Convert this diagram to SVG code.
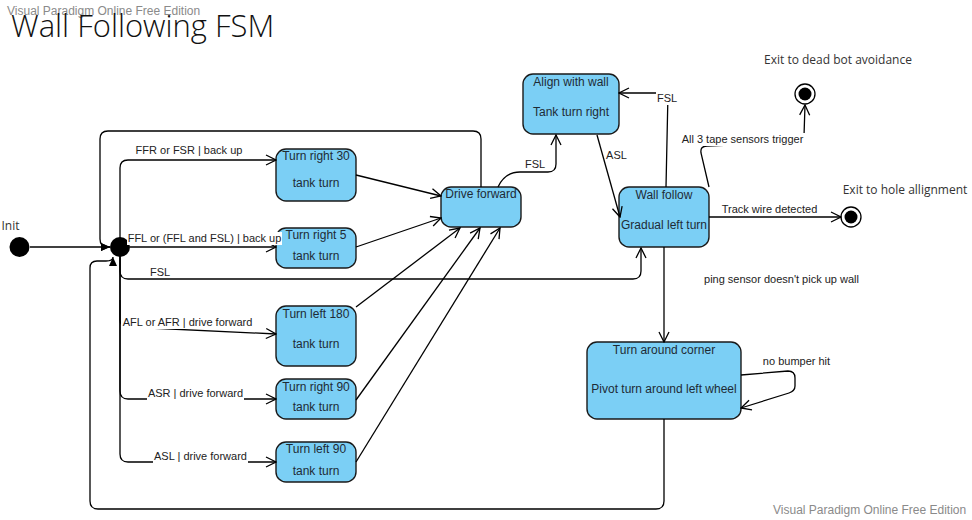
<svg xmlns="http://www.w3.org/2000/svg" width="972" height="520" viewBox="0 0 972 520">
<defs>
<marker id="open" viewBox="0 0 12 12" refX="11" refY="6" markerWidth="12" markerHeight="12" markerUnits="userSpaceOnUse" orient="auto">
<path d="M1,1 L11,6 L1,11" fill="none" stroke="#000" stroke-width="1.3"/>
</marker>
<marker id="filled" viewBox="0 0 9 8" refX="9" refY="4" markerWidth="9" markerHeight="8" markerUnits="userSpaceOnUse" orient="auto">
<path d="M0,0 L9,4 L0,8 z" fill="#000"/>
</marker>
<style>
.node rect{fill:#7bcff5;stroke:#1a1a1a;stroke-width:1.4}
.nt{font-family:"Liberation Sans",Arial,sans-serif;font-size:12px;fill:#1e2b35;text-anchor:middle}
.lb{font-family:"Liberation Sans",Arial,sans-serif;font-size:11px;fill:#222;text-anchor:middle}
.ex{font-family:"Open Sans","Liberation Sans",sans-serif;font-size:12px;fill:#333;text-anchor:middle}
.wm{font-family:"Liberation Sans",Arial,sans-serif;font-size:12px;fill:#8a8a8a}
.c{fill:none;stroke:#000;stroke-width:1.3}
.bg{fill:#fff}
</style>
</defs>
<rect width="972" height="520" fill="#fff"/>
<text class="wm" x="7" y="15">Visual Paradigm Online Free Edition</text>
<text x="11" y="37" font-family="'Open Sans','Liberation Sans',sans-serif" font-size="31" font-weight="300" fill="#111">Wall Following FSM</text>
<text class="wm" x="773" y="514">Visual Paradigm Online Free Edition</text>

<g id="init">
<circle cx="19.5" cy="247" r="10" fill="#000"/>
<text class="ex" x="10.5" y="230">Init</text>
</g>
<g id="junction">
<circle cx="120" cy="247" r="10" fill="#000"/>
</g>

<g id="turn-right-30" class="node">
<rect x="276" y="149" width="80" height="52" rx="10"/>
<text class="nt" x="316" y="160">Turn right 30</text>
<text class="nt" x="316" y="187">tank turn</text>
</g>
<g id="turn-right-5" class="node">
<rect x="276" y="228" width="80" height="40" rx="10"/>
<text class="nt" x="316" y="239">Turn right 5</text>
<text class="nt" x="316" y="260">tank turn</text>
</g>
<g id="drive-forward" class="node">
<rect x="441" y="187" width="80" height="40" rx="10"/>
<text class="nt" x="481" y="198">Drive forward</text>
</g>
<g id="align-with-wall" class="node">
<rect x="523" y="74" width="96" height="60" rx="10"/>
<text class="nt" x="571" y="86">Align with wall</text>
<text class="nt" x="571" y="116">Tank turn right</text>
</g>
<g id="wall-follow" class="node">
<rect x="619" y="187" width="90" height="60" rx="10"/>
<text class="nt" x="664" y="199">Wall follow</text>
<text class="nt" x="664" y="229">Gradual left turn</text>
</g>
<g id="turn-left-180" class="node">
<rect x="276" y="306" width="80" height="60" rx="10"/>
<text class="nt" x="316" y="318">Turn left 180</text>
<text class="nt" x="316" y="348">tank turn</text>
</g>
<g id="turn-right-90" class="node">
<rect x="276" y="379" width="80" height="40" rx="10"/>
<text class="nt" x="316" y="391">Turn right 90</text>
<text class="nt" x="316" y="411">tank turn</text>
</g>
<g id="turn-left-90" class="node">
<rect x="276" y="442" width="80" height="40" rx="10"/>
<text class="nt" x="316" y="453">Turn left 90</text>
<text class="nt" x="316" y="475">tank turn</text>
</g>
<g id="turn-around-corner" class="node">
<rect x="587" y="342" width="154" height="77" rx="10"/>
<text class="nt" x="664" y="354">Turn around corner</text>
<text class="nt" x="664" y="393">Pivot turn around left wheel</text>
</g>

<g id="exit-dead-bot">
<circle cx="805" cy="94" r="10" fill="#fff" stroke="#000" stroke-width="1.3"/>
<circle cx="805" cy="94" r="6.5" fill="#000"/>
<text class="ex" x="838" y="64">Exit to dead bot avoidance</text>
</g>
<g id="exit-hole">
<circle cx="851" cy="217" r="10" fill="#fff" stroke="#000" stroke-width="1.3"/>
<circle cx="851" cy="217" r="6.5" fill="#000"/>
<text class="ex" x="905" y="194">Exit to hole allignment</text>
</g>

<g id="connectors">
<path class="c" d="M30,247 L110,247" marker-end="url(#filled)"/>
<path class="c" d="M481,187 L481,139 Q481,131 473,131 L108,131 Q100,131 100,139 L100,239 Q100,247 108,247 L110,247" marker-end="url(#filled)"/>
<path class="c" d="M664,419 L664,501 Q664,509 656,509 L98,509 Q90,509 90,501 L90,268 Q90,261 97,261 L106,261 Q113,261 113,257" marker-end="url(#filled)"/>
<path class="c" d="M120,247 L120,168 Q120,160 128,160 L276,160" marker-end="url(#open)"/>
<path class="c" d="M130,247 L276,247" marker-end="url(#open)"/>
<path class="c" d="M120,247 L120,271 Q120,279 128,279 L633,279 Q641,279 641,271 L641,248" marker-end="url(#open)"/>
<path class="c" d="M120,300 L120,320 Q120,327 128,327 L276,334" marker-end="url(#open)"/>
<path class="c" d="M120,247 L120,391 Q120,399 128,399 L276,399" marker-end="url(#open)"/>
<path class="c" d="M120,247 L120,454 Q120,462 128,462 L276,462" marker-end="url(#open)"/>
<path class="c" d="M356,175 L441,196" marker-end="url(#open)"/>
<path class="c" d="M356,247 L441,218" marker-end="url(#open)"/>
<path class="c" d="M356,307 L460,228" marker-end="url(#open)"/>
<path class="c" d="M356,400 L480,228" marker-end="url(#open)"/>
<path class="c" d="M356,462 L500,228" marker-end="url(#open)"/>
<path class="c" d="M498,187 Q505,172 520,172 L548,172 Q556,172 556,164 L556,135" marker-end="url(#open)"/>
<path class="c" d="M597,135 L620,217" marker-end="url(#open)"/>
<path class="c" d="M666,187 L668,93 L619,93" marker-end="url(#open)"/>
<path class="c" d="M709,187 L701,153 Q700,146 707,146 L798,142 Q804,142 804,136 L805,105" marker-end="url(#open)"/>
<path class="c" d="M709,217 L841,217" marker-end="url(#open)"/>
<path class="c" d="M664,247 L664,342" marker-end="url(#open)"/>
<path class="c" d="M741,375 L788,371 Q795,371 795,378 L795,386 Q795,391 789,393 L741,408" marker-end="url(#open)"/>

<text class="lb" x="189" y="154">FFR or FSR | back up</text>
<rect class="bg" x="127" y="232" width="155" height="13"/>
<text class="lb" x="204.5" y="242">FFL or (FFL and FSL) | back up</text>
<text class="lb" x="160" y="276">FSL</text>
<rect class="bg" x="121" y="316" width="133" height="13"/>
<text class="lb" x="187.5" y="326">AFL or AFR | drive forward</text>
<rect class="bg" x="147" y="387" width="97" height="13"/>
<text class="lb" x="195.5" y="397">ASR | drive forward</text>
<rect class="bg" x="153" y="450" width="95" height="13"/>
<text class="lb" x="200.5" y="460">ASL | drive forward</text>
<text class="lb" x="535" y="168">FSL</text>
<text class="lb" x="616.5" y="159">ASL</text>
<rect class="bg" x="656" y="92" width="22" height="13"/>
<text class="lb" x="667" y="102">FSL</text>
<rect class="bg" x="680" y="133" width="125" height="13"/>
<text class="lb" x="742.5" y="143">All 3 tape sensors trigger</text>
<text class="lb" x="769.5" y="213">Track wire detected</text>
<text class="lb" x="781.5" y="283">ping sensor doesn't pick up wall</text>
<text class="lb" x="796.5" y="365">no bumper hit</text>
</g>
</svg>
